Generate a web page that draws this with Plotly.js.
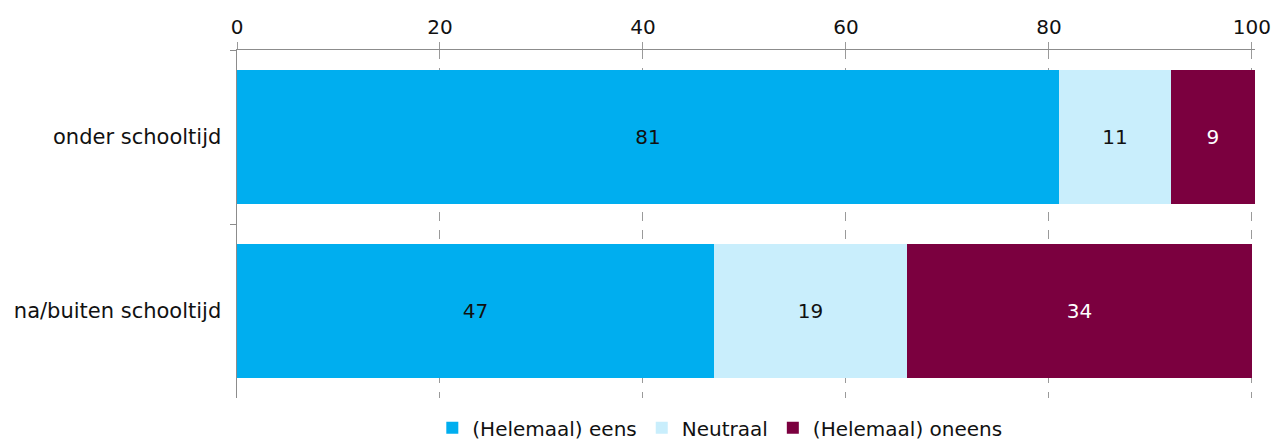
<!DOCTYPE html>
<html>
<head>
<meta charset="utf-8">
<script src="https://cdn.plot.ly/plotly-3.0.1.min.js"></script>
<style>html,body{margin:0;padding:0;background:#fff;}#chart{width:1274px;height:441px;}</style>
</head>
<body>
<div id="chart"></div>
<script>
var categories = ["onder schooltijd", "na/buiten schooltijd"];
var seriesNames = ["(Helemaal) eens", "Neutraal", "(Helemaal) oneens"];
var eens = [81, 47];
var neutraal = [11, 19];
var oneens = [8.3, 34];
var eensLabels = ["81", "47"];
var neutraalLabels = ["11", "19"];
var oneensLabels = ["9", "34"];
var xTicks = [0, 20, 40, 60, 80, 100];

var FONT = "DejaVu Sans, sans-serif";
var colors = ["#00AEEF", "#C9EEFC", "#7B003F"];
var textColors = ["#111111", "#111111", "#ffffff"];
var vals = [eens, neutraal, oneens];
var labs = [eensLabels, neutraalLabels, oneensLabels];

var data = vals.map(function (v, i) {
  return {
    type: "bar",
    orientation: "h",
    name: seriesNames[i],
    y: categories,
    x: v,
    text: labs[i],
    texttemplate: "%{text}",
    textposition: "inside",
    insidetextanchor: "middle",
    textangle: 0,
    constraintext: "none",
    textfont: {family: FONT, size: 20, color: textColors[i]},
    marker: {color: colors[i], line: {width: 0}},
    hoverinfo: "skip"
  };
});

var layout = {
  width: 1274,
  height: 441,
  margin: {l: 237, r: 19, t: 50, b: 43},
  paper_bgcolor: "#ffffff",
  plot_bgcolor: "#ffffff",
  barmode: "stack",
  bargap: 0.23,
  font: {family: FONT, size: 20, color: "#111111"},
  showlegend: true,
  legend: {
    orientation: "h",
    xref: "container",
    yref: "container",
    x: 0.565, xanchor: "center",
    y: 0.03, yanchor: "middle",
    font: {family: FONT, size: 20, color: "#111111"},
    itemwidth: 30,
    traceorder: "normal"
  },
  xaxis: {
    side: "top",
    range: [0, 100.3],
    tickvals: xTicks,
    ticktext: xTicks.map(String),
    showgrid: true,
    gridcolor: "#9a9a9a",
    griddash: "dash",
    gridwidth: 1,
    zeroline: false,
    showline: true,
    linecolor: "#8c8c8c",
    linewidth: 1.5,
    ticks: "outside",
    ticklen: 7,
    tickcolor: "#9a9a9a",
    tickfont: {family: FONT, size: 20, color: "#111111"},
    fixedrange: true
  },
  yaxis: {
    type: "category",
    autorange: "reversed",
    showgrid: false,
    zeroline: false,
    showline: true,
    linecolor: "#8c8c8c",
    linewidth: 1.5,
    ticks: "outside",
    tickson: "boundaries",
    ticklen: 6,
    tickcolor: "#8c8c8c",
    ticklabelstandoff: 10,
    tickfont: {family: FONT, size: 21, color: "#111111"},
    fixedrange: true
  }
};

Plotly.newPlot("chart", data, layout, {displayModeBar: false, staticPlot: true});
</script>
</body>
</html>
